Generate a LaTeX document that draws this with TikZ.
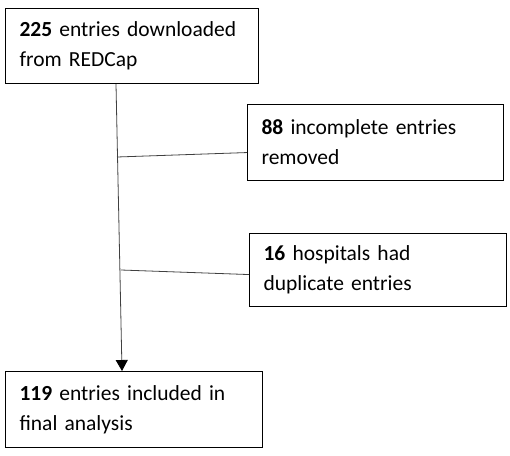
\documentclass[tikz,border=0pt]{standalone}
\usepackage{fontspec}
\setmainfont{Carlito}
\usetikzlibrary{arrows.meta}
\tikzset{
    flowbox/.style={draw, line width=1.1pt, rectangle, anchor=north west,
        align=left, inner xsep=14pt, font=\fontsize{21.5}{30}\selectfont},
    trunk/.style={line width=0.8pt, draw=black!75}
}
\begin{document}
\begin{tikzpicture}[x=1pt,y=-1pt]
    \useasboundingbox (0,0) rectangle (510,455);
    \node[flowbox, text width=225pt, minimum height=75pt] (download) at (5,8)
        {\textbf{225} entries downloaded\\from REDCap};
    \node[flowbox, text width=228pt, minimum height=76pt] (incomplete) at (247,104)
        {\textbf{88} incomplete entries\\removed};
    \node[flowbox, text width=229pt, minimum height=73pt] (duplicate) at (249,233)
        {\textbf{16} hospitals had\\duplicate entries};
    \node[flowbox, text width=229pt, minimum height=76pt] (included) at (5,371)
        {\textbf{119} entries included in\\final analysis};
    % main line and the two side branches
    \coordinate (j1) at (117,157);
    \coordinate (j2) at (121,270);
    \draw[trunk, -{Triangle[width=12pt,length=11pt,color=black]}]
        ([xshift=111pt]download.south west) -- ([xshift=117pt]included.north west);
    \draw[trunk] (j1) -- ([yshift=-10pt]incomplete.west);
    \draw[trunk] (j2) -- ([yshift=-4.5pt]duplicate.west);
\end{tikzpicture}
\end{document}
